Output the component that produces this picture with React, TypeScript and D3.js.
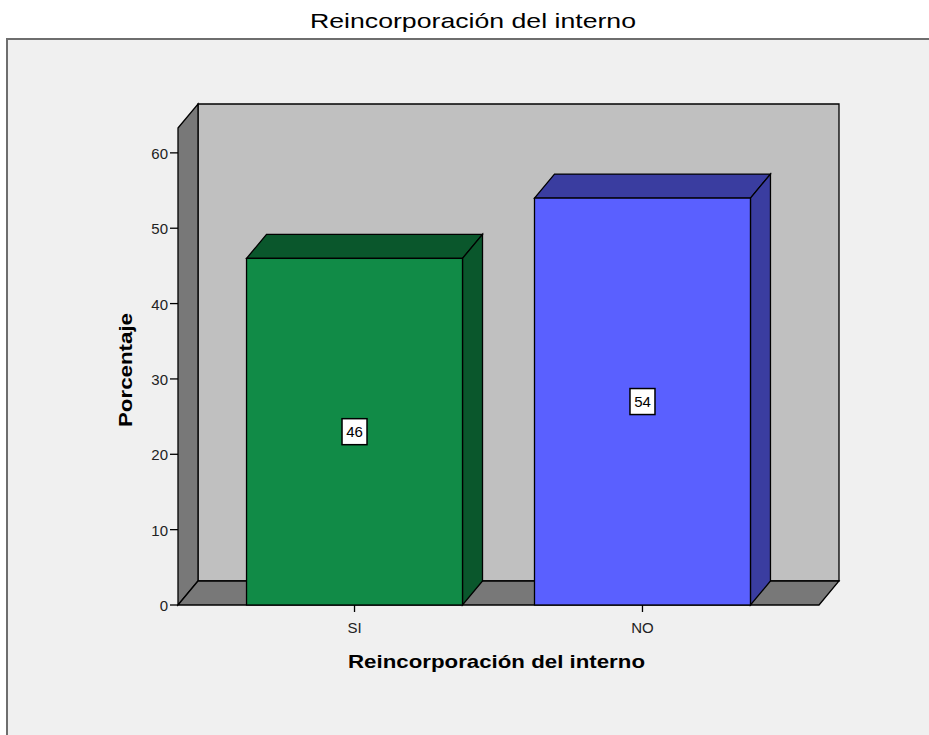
import React from "react";
import * as d3 from "d3";

const categories = ["SI", "NO"];
const values = [46, 54];
const yTicks = [0, 10, 20, 30, 40, 50, 60];
const frontColors = ["#118b47", "#5a60ff"];
const darkColors = ["#0a572c", "#3a3da0"];

const W = 929;
const H = 735;
const DX = 20;
const DY = -24;

export default function App() {
  const y = d3.scaleLinear().domain([0, 63.3]).range([605, 128]);
  const x = d3
    .scaleBand<string>()
    .domain(categories)
    .range([178, 819])
    .paddingInner(0.25)
    .paddingOuter(0.238);
  const y0 = y(0);
  const yTop = y(63.3);
  const xL = 178;
  const xR = 819;
  const bw = x.bandwidth();
  const pts = (arr: [number, number][]) => arr.map((p) => p.join(",")).join(" ");
  const font = "Arial, 'Liberation Sans', sans-serif";

  return (
    <svg
      width={W}
      height={H}
      style={{ position: "fixed", left: 0, top: 0, display: "block", background: "#fff" }}
    >
      <text
        x={473}
        y={28}
        textAnchor="middle"
        fontFamily={font}
        fontSize={21}
        textLength={326}
        lengthAdjust="spacingAndGlyphs"
        fill="#000"
      >
        Reincorporación del interno
      </text>
      <rect x={7} y={39} width={960} height={760} fill="#f0f0f0" stroke="#6e6e6e" strokeWidth={2} />

      {/* back wall */}
      <polygon
        points={pts([
          [xL + DX, yTop + DY],
          [xR + DX, yTop + DY],
          [xR + DX, y0 + DY],
          [xL + DX, y0 + DY],
        ])}
        fill="#c0c0c0"
        stroke="#000"
        strokeWidth={1.3}
      />
      {/* left wall */}
      <polygon
        points={pts([
          [xL, yTop],
          [xL + DX, yTop + DY],
          [xL + DX, y0 + DY],
          [xL, y0],
        ])}
        fill="#787878"
        stroke="#000"
        strokeWidth={1.3}
      />
      {/* floor */}
      <polygon
        points={pts([
          [xL, y0],
          [xL + DX, y0 + DY],
          [xR + DX, y0 + DY],
          [xR, y0],
        ])}
        fill="#787878"
        stroke="#000"
        strokeWidth={1.3}
      />

      {/* y ticks */}
      {yTicks.map((t) => (
        <g key={t}>
          <line x1={170} x2={xL} y1={y(t)} y2={y(t)} stroke="#000" strokeWidth={1.3} />
          <text
            x={168}
            y={y(t)}
            dy="0.4em"
            textAnchor="end"
            fontFamily={font}
            fontSize={15}
            fill="#222"
          >
            {t}
          </text>
        </g>
      ))}

      {/* bars */}
      {categories.map((c, i) => {
        const bx = x(c) as number;
        const by = y(values[i]);
        const cx = bx + bw / 2;
        const cy = (by + y0) / 2;
        return (
          <g key={c}>
            <polygon
              points={pts([
                [bx, by],
                [bx + DX, by + DY],
                [bx + bw + DX, by + DY],
                [bx + bw, by],
              ])}
              fill={darkColors[i]}
              stroke="#000"
              strokeWidth={1.3}
            />
            <polygon
              points={pts([
                [bx + bw, by],
                [bx + bw + DX, by + DY],
                [bx + bw + DX, y0 + DY],
                [bx + bw, y0],
              ])}
              fill={darkColors[i]}
              stroke="#000"
              strokeWidth={1.3}
            />
            <rect x={bx} y={by} width={bw} height={y0 - by} fill={frontColors[i]} stroke="#000" strokeWidth={1.3} />
            <rect x={cx - 12.5} y={cy - 13} width={25} height={26} fill="#fff" stroke="#000" strokeWidth={1.5} />
            <text x={cx} y={cy} dy="0.37em" textAnchor="middle" fontFamily={font} fontSize={15} fill="#000">
              {values[i]}
            </text>
            <line x1={cx} x2={cx} y1={y0} y2={y0 + 7} stroke="#000" strokeWidth={1.3} />
            <text x={cx} y={y0 + 28} textAnchor="middle" fontFamily={font} fontSize={15} fill="#222">
              {c}
            </text>
          </g>
        );
      })}

      <text
        x={496.5}
        y={668}
        textAnchor="middle"
        fontFamily={font}
        fontWeight="bold"
        fontSize={19}
        textLength={297}
        lengthAdjust="spacingAndGlyphs"
        fill="#000"
      >
        Reincorporación del interno
      </text>
      <text
        transform={`translate(132,370) rotate(-90)`}
        textAnchor="middle"
        fontFamily={font}
        fontWeight="bold"
        fontSize={19}
        textLength={114}
        lengthAdjust="spacingAndGlyphs"
        fill="#000"
      >
        Porcentaje
      </text>
    </svg>
  );
}
